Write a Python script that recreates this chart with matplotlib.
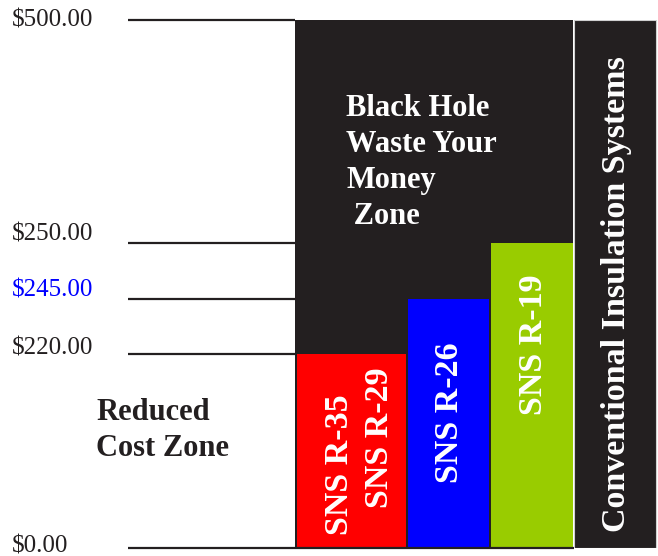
import numpy as np
import matplotlib
matplotlib.use('Agg')
import matplotlib.pyplot as plt

# --- data ---
tick_values = [0, 220, 245, 250, 500]
tick_labels = ['$0.00', '$220.00', '$245.00', '$250.00', '$500.00']
tick_colors = ['#231f20', '#231f20', '#0000ff', '#231f20', '#231f20']

bar_names = ['SNS R-35 / SNS R-29', 'SNS R-26', 'SNS R-19']
bar_costs = [220, 245, 250]
conventional_cost = 500

# --- layout (pixels of the 658x556 picture) ---
W, H = 658, 556
DARK = '#231f20'
bar_colors = ['#ff0000', '#0000ff', '#99cc00']
bar_lefts = [297, 408, 491]
bar_widths = [109, 81, 82]
zone_left, zone_width = 295, 278
conv_left, conv_width = 574, 82
# uneven schematic spacing of the value axis (pixels above the $0 line)
scale_pos = [0, 194, 249, 305, 528]
label_shift = [-4, 0, 2, 3, -7]  # baseline offset of each value label

plt.rcParams['font.family'] = ['Liberation Serif', 'DejaVu Serif']

fig = plt.figure(figsize=(W / 100, H / 100), dpi=100)
ax = fig.add_axes([0, 8 / H, 1, 528 / H])


def fwd(v):
    return np.interp(v, tick_values, scale_pos)


def inv(p):
    return np.interp(p, scale_pos, tick_values)


ax.set_yscale('function', functions=(fwd, inv))
ax.set_ylim(0, 500)
ax.set_xlim(0, W)
ax.axis('off')


def px(x, y):
    return x / W, 1 - y / H


# guide lines and value labels
ax.hlines(tick_values, 128, zone_left, color=DARK, lw=1.6, clip_on=False)
ax.hlines(0, zone_left, conv_left, color=DARK, lw=1.6, clip_on=False)
for v, lab, c, dy in zip(tick_values, tick_labels, tick_colors, label_shift):
    ax.annotate(lab, (12, v), xytext=(0, dy), textcoords='offset pixels',
                ha='left', va='baseline', fontsize=18, color=c,
                annotation_clip=False)

# black "waste" zone and the conventional systems column
ax.bar(zone_left, conventional_cost, width=zone_width, align='edge', color=DARK)
ax.bar(conv_left, conventional_cost, width=conv_width, align='edge', color=DARK,
       edgecolor='#d0d0d0', linewidth=0.8)

# SNS bars
ax.bar(bar_lefts, bar_costs, width=bar_widths, align='edge', color=bar_colors)

# texts
bold = dict(fontweight='bold', color='white')
fig.text(*px(346, 94), 'Black Hole\nWaste Your\nMoney\n Zone', ha='left', va='top',
         fontsize=22, linespacing=1.32, **bold)
fig.text(*px(96, 398), 'Reduced\nCost Zone', ha='left', va='top',
         fontsize=22, linespacing=1.32, fontweight='bold', color=DARK)

rot_labels = [('SNS R-35', 340, 535), ('SNS R-29', 380, 508),
              ('SNS R-26', 450, 483), ('SNS R-19', 533, 415),
              ('Conventional Insulation Systems', 617, 532)]
for txt, x, y in rot_labels:
    fig.text(*px(x, y), txt, rotation=90, ha='center', va='bottom',
             fontsize=24.5, **bold)

fig.savefig('out.png', dpi=100)
